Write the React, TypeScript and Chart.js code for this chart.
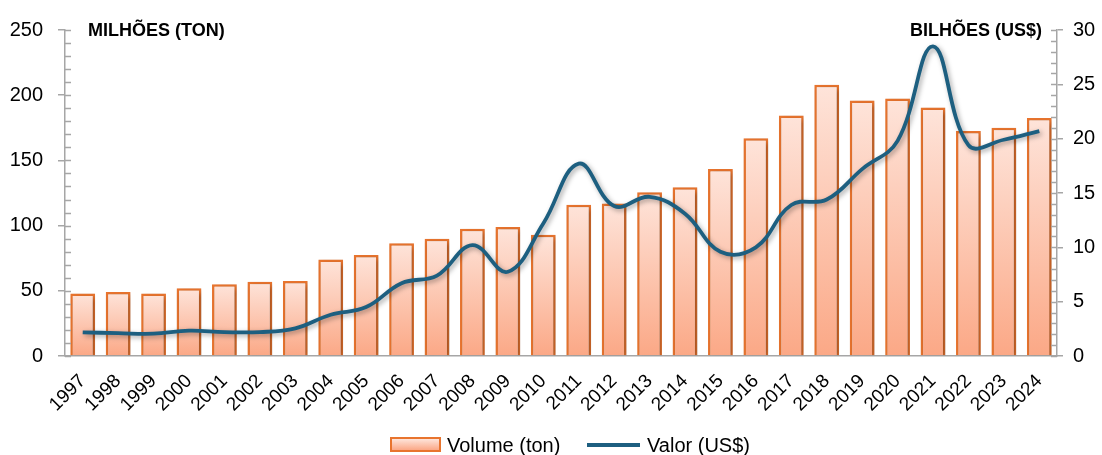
import { useEffect, useRef } from 'react';
import { Chart, registerables } from 'chart.js';

Chart.register(...registerables);

const years = ['1997', '1998', '1999', '2000', '2001', '2002', '2003', '2004', '2005', '2006', '2007', '2008', '2009', '2010', '2011', '2012', '2013', '2014', '2015', '2016', '2017', '2018', '2019', '2020', '2021', '2022', '2023', '2024'];
const volumeTon = [48, 49, 48, 52, 55, 57, 57.5, 74, 77.5, 86.5, 90, 97.5, 99, 93, 116, 117, 125.5, 129.5, 143.5, 167, 184.5, 208, 196, 197.5, 190.5, 172.5, 175, 182.5];
const valorUsd = [2.18, 2.1, 2.05, 2.33, 2.2, 2.2, 2.55, 3.8, 4.5, 6.7, 7.4, 10.2, 7.75, 12.2, 17.7, 13.8, 14.65, 13.1, 9.6, 10.0, 13.9, 14.4, 17.2, 19.8, 28.5, 19.4, 19.9, 20.7];
const leftAxisMax = 250;
const leftAxisStep = 50;
const leftMinorStep = 10;
const rightAxisMax = 30;
const rightAxisStep = 5;
const rightMinorStep = 1;
const leftTitle = 'MILHÕES (TON)';
const rightTitle = 'BILHÕES (US$)';
const volumeLabel = 'Volume (ton)';
const valorLabel = 'Valor (US$)';

const FONT = "'Liberation Sans', Arial, sans-serif";
const AXIS_COLOR = '#a6a6a6';
const BAR_BORDER = '#e8742e';
const LINE_COLOR = '#1d5f80';

const shadowPlugin = {
  id: 'shadowPlugin',
  beforeDatasetDraw(chart: any) {
    const ctx = chart.ctx;
    ctx.save();
    ctx.shadowColor = 'rgba(0,0,0,0.35)';
    ctx.shadowBlur = 5;
    ctx.shadowOffsetX = 2;
    ctx.shadowOffsetY = 2;
  },
  afterDatasetDraw(chart: any) {
    chart.ctx.restore();
  },
};

const decorPlugin = {
  id: 'decorPlugin',
  afterDraw(chart: any) {
    const { ctx, chartArea, scales } = chart;
    ctx.save();
    ctx.strokeStyle = AXIS_COLOR;
    ctx.lineWidth = 1.5;
    for (let v = 0; v <= leftAxisMax; v += leftMinorStep) {
      const y = Math.round(scales.y.getPixelForValue(v)) + 0.5;
      ctx.beginPath();
      ctx.moveTo(chartArea.left, y);
      ctx.lineTo(chartArea.left + 6, y);
      ctx.stroke();
    }
    for (let v = 0; v <= rightAxisMax; v += rightMinorStep) {
      const y = Math.round(scales.y1.getPixelForValue(v)) + 0.5;
      ctx.beginPath();
      ctx.moveTo(chartArea.right - 6, y);
      ctx.lineTo(chartArea.right, y);
      ctx.stroke();
    }
    ctx.fillStyle = '#000';
    ctx.font = `bold 18px ${FONT}`;
    ctx.textBaseline = 'middle';
    ctx.textAlign = 'left';
    ctx.fillText(leftTitle, chartArea.left + 23, chartArea.top + 1);
    ctx.textAlign = 'right';
    ctx.fillText(rightTitle, chartArea.right - 15, chartArea.top + 1);
    ctx.restore();
  },
};

export default function App() {
  const ref = useRef<HTMLCanvasElement | null>(null);

  useEffect(() => {
    if (!ref.current) return;
    const chart = new Chart(ref.current, {
      type: 'bar',
      data: {
        labels: years,
        datasets: [
          {
            type: 'bar',
            label: volumeLabel,
            data: volumeTon,
            yAxisID: 'y',
            order: 1,
            borderColor: BAR_BORDER,
            borderWidth: 2.5,
            categoryPercentage: 1,
            barPercentage: 0.7,
            backgroundColor: (c: any) => {
              const ch = c.chart;
              if (!ch.chartArea || c.type !== 'data') return '#fcc9b2';
              const yTop = ch.scales.y.getPixelForValue(c.raw as number);
              const yBot = ch.scales.y.getPixelForValue(0);
              const g = ch.ctx.createLinearGradient(0, yTop, 0, yBot);
              g.addColorStop(0, '#fee4da');
              g.addColorStop(1, '#fba886');
              return g;
            },
          } as any,
          {
            type: 'line',
            label: valorLabel,
            data: valorUsd,
            yAxisID: 'y1',
            order: 0,
            borderColor: LINE_COLOR,
            borderWidth: 3.8,
            pointRadius: 0,
            tension: 0.4,
            fill: false,
          } as any,
        ],
      },
      options: {
        animation: false,
        responsive: true,
        maintainAspectRatio: false,
        layout: { padding: { top: 30, left: 0, right: 0, bottom: 0 } },
        plugins: {
          legend: { display: false },
          tooltip: { enabled: false },
        },
        scales: {
          x: {
            offset: true,
            grid: { display: false },
            border: { display: true, color: AXIS_COLOR, width: 1.5 },
            ticks: {
              minRotation: 45,
              maxRotation: 45,
              color: '#000',
              padding: 6,
              font: { family: FONT, size: 19 },
              autoSkip: false,
            },
            afterFit: (s: any) => { s.height = 99; },
          },
          y: {
            position: 'left',
            min: 0,
            max: leftAxisMax,
            ticks: {
              stepSize: leftAxisStep,
              color: '#000',
              padding: 15,
              font: { family: FONT, size: 20 },
            },
            grid: { drawOnChartArea: false, drawTicks: true, tickLength: 7, color: AXIS_COLOR, lineWidth: 1.5 },
            border: { display: true, color: AXIS_COLOR, width: 1.5 },
            afterFit: (s: any) => { s.width = 65; },
          },
          y1: {
            position: 'right',
            min: 0,
            max: rightAxisMax,
            ticks: {
              stepSize: rightAxisStep,
              color: '#000',
              padding: 10,
              font: { family: FONT, size: 20 },
            },
            grid: { drawOnChartArea: false, drawTicks: true, tickLength: 6, color: AXIS_COLOR, lineWidth: 1.5 },
            border: { display: true, color: AXIS_COLOR, width: 1.5 },
            afterFit: (s: any) => { s.width = 45; },
          },
        },
      },
      plugins: [shadowPlugin, decorPlugin],
    } as any);
    return () => chart.destroy();
  }, []);

  const textStyle = {
    position: 'absolute' as const,
    top: 433,
    lineHeight: '24px',
    fontFamily: FONT,
    fontSize: 20,
    color: '#000',
    whiteSpace: 'nowrap' as const,
  };

  return (
    <div style={{ position: 'fixed', left: 0, top: 0, width: 1102, height: 455, background: '#fff' }}>
      <canvas ref={ref} />
      <span
        style={{
          position: 'absolute',
          left: 390,
          top: 437,
          width: 47,
          height: 11,
          border: `2px solid ${BAR_BORDER}`,
          background: 'linear-gradient(#fee4da, #fba886)',
        }}
      />
      <span style={{ ...textStyle, left: 447 }}>{volumeLabel}</span>
      <span style={{ position: 'absolute', left: 587, top: 443, width: 53, height: 4, background: LINE_COLOR }} />
      <span style={{ ...textStyle, left: 647 }}>{valorLabel}</span>
    </div>
  );
}
